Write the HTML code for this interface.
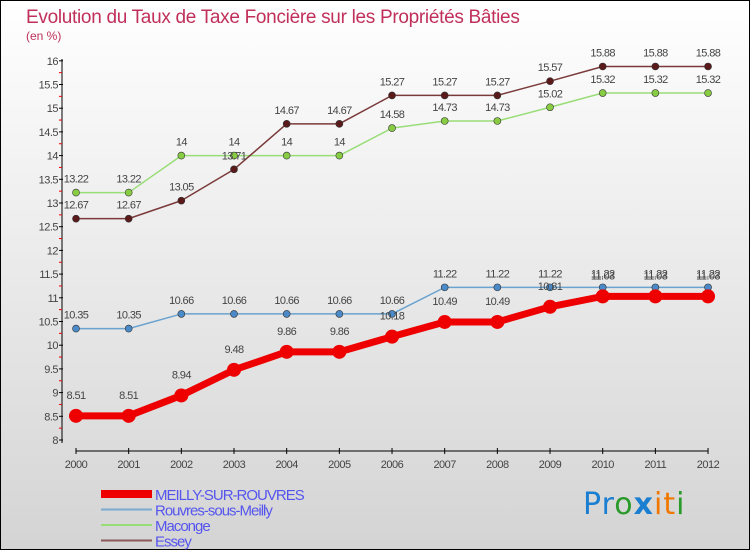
<!DOCTYPE html>
<html><head><meta charset="utf-8">
<style>
html,body{margin:0;padding:0}
body{width:750px;height:550px;overflow:hidden;font-family:"Liberation Sans",sans-serif}
#wrap{position:relative;width:748px;height:548px;border:1px solid #000;background:linear-gradient(#ffffff,#d4d4d4)}
svg{position:absolute;left:0;top:0}
</style></head><body>
<div id="wrap">
<svg id="c" width="750" height="550">
<text x="25" y="22" font-size="19" fill="#c0305a" letter-spacing="-0.3">Evolution du Taux de Taxe Foncière sur les Propriétés Bâties</text>
<text x="25" y="39" font-size="12" fill="#c0305a">(en %)</text>
</svg>
<div style="position:absolute;left:582px;top:486px;font-size:30px;font-family:'DejaVu Sans',sans-serif;letter-spacing:1px"><span style="color:#1a7fd0">Pr</span><span style="color:#2a9a2a">o</span><span style="color:#1a7fd0;font-weight:bold">x</span><span style="color:#f07800">i</span><span style="color:#f07800">t</span><span style="color:#2a9a2a">i</span></div>
</div>
<script>
const years=[2000,2001,2002,2003,2004,2005,2006,2007,2008,2009,2010,2011,2012];
const meilly=[8.51,8.51,8.94,9.48,9.86,9.86,10.18,10.49,10.49,10.81,11.03,11.03,11.03];
const rouvres=[10.35,10.35,10.66,10.66,10.66,10.66,10.66,11.22,11.22,11.22,11.22,11.22,11.22];
const maconge=[13.22,13.22,14,14,14,14,14.58,14.73,14.73,15.02,15.32,15.32,15.32];
const essey=[12.67,12.67,13.05,13.71,14.67,14.67,15.27,15.27,15.27,15.57,15.88,15.88,15.88];
const yTicks=[8,8.5,9,9.5,10,10.5,11,11.5,12,12.5,13,13.5,14,14.5,15,15.5,16];
const svg=document.getElementById('c');const NS='http://www.w3.org/2000/svg';
function X(i){return 75+i*52.67;}
function Y(v){return 439-(v-8)*47.4;}
function mk(t,a,p){const e=document.createElementNS(NS,t);for(const k in a)e.setAttribute(k,a[k]);(p||svg).appendChild(e);return e;}
let ya=mk('line',{x1:61,y1:58,x2:61,y2:442,stroke:'#000','stroke-width':1});


yTicks.forEach(v=>{
 mk('line',{x1:58,y1:Y(v),x2:62,y2:Y(v),stroke:'#000'});
 if(v<16)mk('line',{x1:58,y1:Y(v+0.25),x2:61,y2:Y(v+0.25),stroke:'#e00'});
 const t=mk('text',{x:57,y:Y(v)+4,'font-size':11,fill:'#444','text-anchor':'end','letter-spacing':'-0.5'});t.textContent=v;
 
 
});
let xa=mk('line',{x1:75,y1:450,x2:707,y2:450,stroke:'#000'});


years.forEach((y,i)=>{
 mk('line',{x1:X(i),y1:447,x2:X(i),y2:453,stroke:'#000'});
 const t=mk('text',{x:X(i),y:467,'font-size':11,fill:'#444','text-anchor':'middle','letter-spacing':'-0.5'});t.textContent=y;
 
 
});
function series(data,color,dot,lw,r,name,lblOff){
 const g=mk('g',{});
 
 
 mk('polyline',{points:data.map((v,i)=>X(i)+','+Y(v)).join(' '),fill:'none',stroke:color,'stroke-width':lw,'stroke-linejoin':'round'},g);
 data.forEach((v,i)=>{
  const c=mk('circle',{cx:X(i),cy:Y(v),r:r,fill:dot,stroke:'#333','stroke-width':r>5?0:0.6},g);
  
  
  const t=mk('text',{x:X(i),y:Y(v)+lblOff,'font-size':11,fill:'#444','text-anchor':'middle','letter-spacing':'-0.6'},g);t.textContent=v;
 });
}
series(maconge,'#99dd77','#88cc44',1.5,3.5,'series-maconge',-10);
series(essey,'#7a3a3a','#5a1a1a',1.5,3.5,'series-essey',-10);
series(rouvres,'#6aa2d0','#4a8ac8',1.5,3.5,'series-rouvres',-10);
series(meilly,'#ee0000','#ee0000',7,7,'series-meilly',-17);
const leg=[['MEILLY-SUR-ROUVRES','#ee0000',8],['Rouvres-sous-Meilly','#7aaad0',2],['Maconge','#99dd77',2],['Essey','#8a5a5a',2]];
leg.forEach((l,i)=>{
 const y=493+i*15.5;
 const g=mk('g',{});
 
 
 mk('line',{x1:100,y1:y,x2:151,y2:y,stroke:l[1],'stroke-width':l[2]},g);
 const t=mk('text',{x:154,y:y+6,'font-size':15,fill:'#5555ee','letter-spacing':'-1'},g);t.textContent=l[0];
});
</script>
</body></html>
